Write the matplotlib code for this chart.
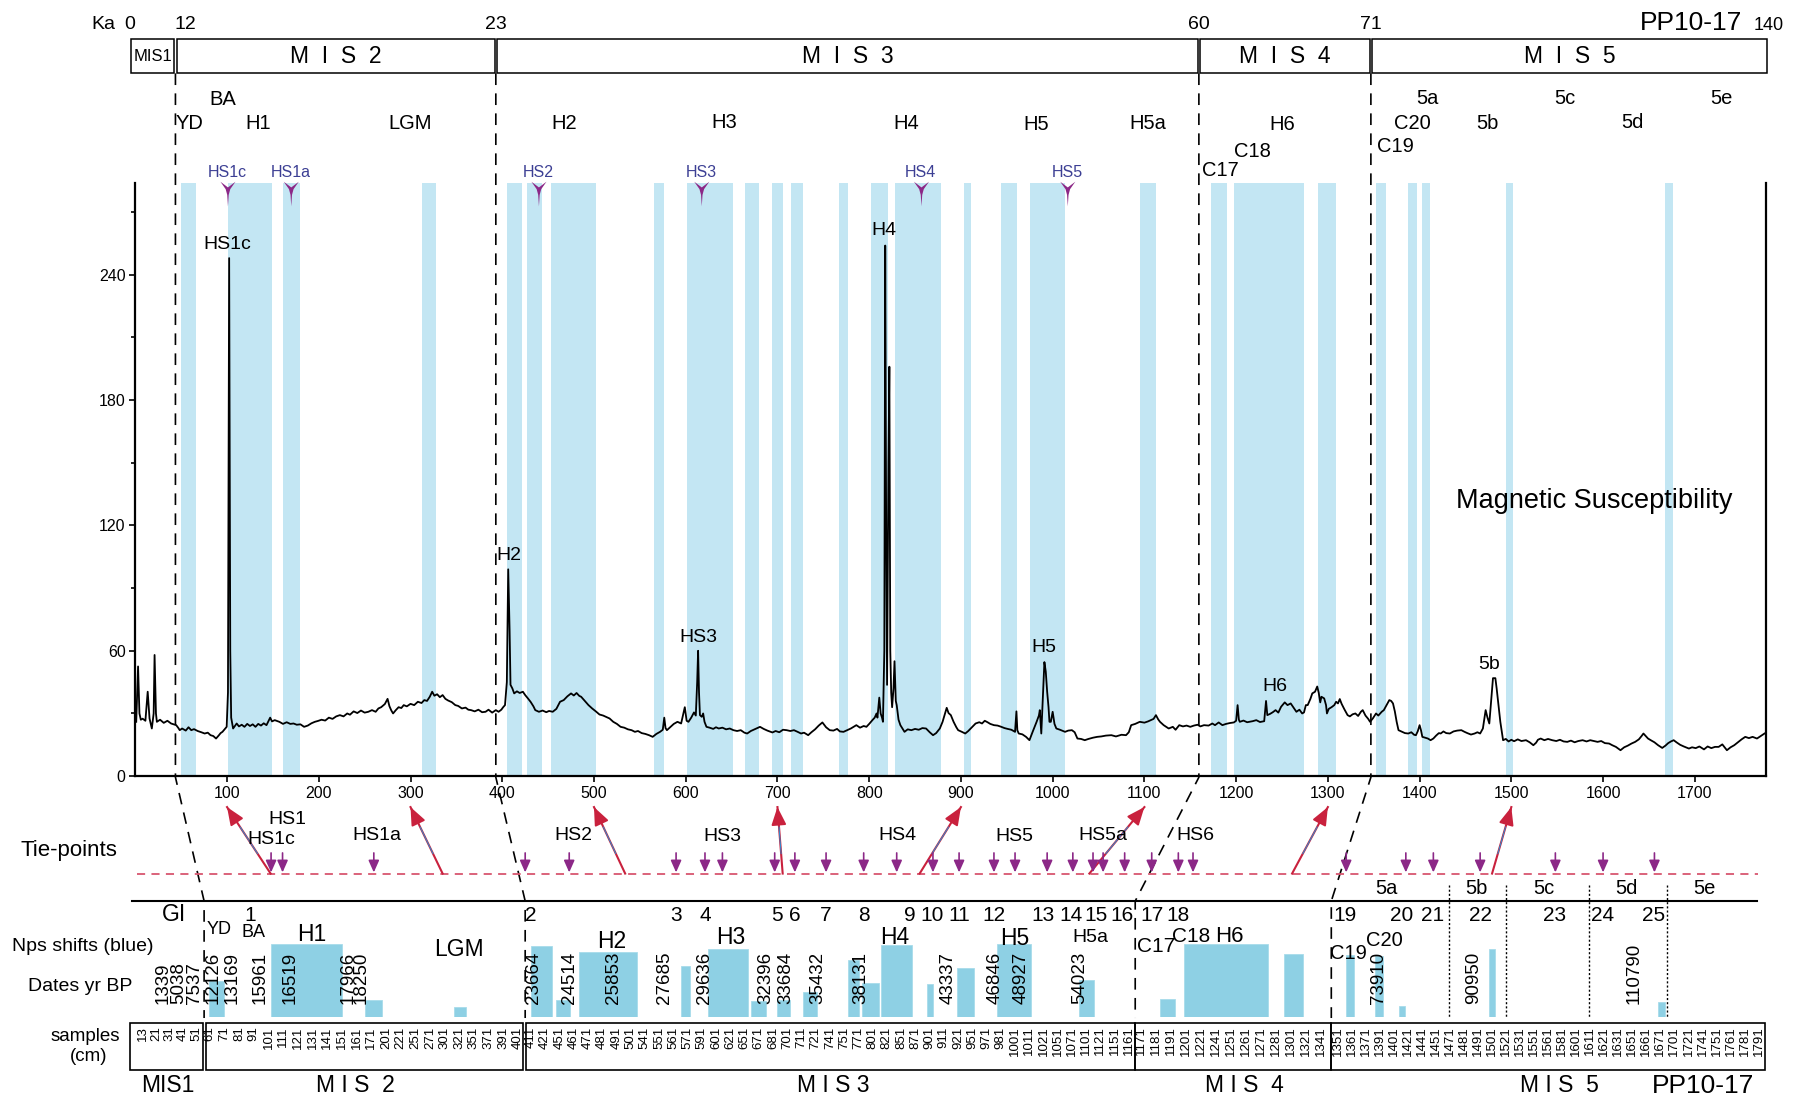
import matplotlib
matplotlib.use("Agg")
import matplotlib.pyplot as plt
from matplotlib import font_manager
from matplotlib.patches import Rectangle, Polygon

# ---------------------------------------------------------------- fonts
_avail = {f.name for f in font_manager.fontManager.ttflist}


def pick(*names):
    for n in names:
        if n in _avail:
            return n
    return "DejaVu Sans"


SANS = pick("Liberation Sans", "Arial", "DejaVu Sans")
NARROW = pick("Liberation Sans Narrow", SANS)
HAS_NARROW = NARROW != SANS
plt.rcParams["font.family"] = [SANS, "DejaVu Sans"]

# ---------------------------------------------------------------- data
# magnetic susceptibility along core PP10-17 (depth in cm, SI x 10^-6)
depth_cm = [
    1, 3, 4.5, 6, 8, 11, 13.5, 15.5, 18, 20, 21, 22.5, 23.5, 27, 31, 35, 39, 42, 44.6, 47,
    48.4, 51, 55, 58, 61, 64, 68, 72, 75.6, 79, 82, 85, 88, 91, 93, 95, 97.5, 99.6, 101, 102.3,
    103.5, 104.5, 106.6, 108.5, 110.5, 113, 116, 119, 122, 125, 128, 131, 134, 137, 140, 143, 147, 149, 152, 157,
    161, 165, 169, 172.5, 176, 180, 184, 188, 192, 195.7, 199, 203, 207, 211, 215, 219, 223, 227, 231, 234,
    238, 242, 246, 250, 254, 258, 262, 265, 268, 272, 275, 277, 279, 281, 284, 287, 290, 292.6, 296, 300,
    304, 308, 312, 315, 318, 321, 323.6, 326, 329, 332, 335, 338, 341, 345, 348.8, 352, 356, 360, 363, 366,
    370, 374, 378, 381.8, 385, 389, 393, 396, 399, 401, 403, 405, 406.5, 408, 409, 411, 413, 416, 419, 422.5,
    425, 428, 431, 434, 436, 440, 444, 448, 451, 455, 459, 463, 467, 471, 475, 478, 481, 484, 486, 490,
    494, 498, 502, 506, 510, 514, 517, 521, 525, 529, 533, 537, 541, 544.6, 548, 552, 556, 560, 564, 568,
    572, 575, 576.6, 578, 579.5, 583, 587, 591, 595, 599, 601, 603, 606, 609, 611, 612.5, 613.5, 614.5, 615.5, 617.5,
    619, 620.5, 622.6, 626, 630, 633, 636, 640, 644, 648, 652, 656, 660, 664, 667, 671, 675, 678, 681, 685,
    689, 694.5, 698, 702, 706, 710, 714, 718, 722, 725.7, 729, 733.5, 737, 741, 745, 749, 753, 757, 761, 765,
    768, 772, 776, 780, 783, 786, 790, 794, 797, 800, 803.5, 806, 808, 809, 811, 812.5, 814, 815, 816.5, 817.5,
    818.5, 819.5, 821, 822, 823, 824, 825, 826.5, 827.6, 829, 830, 832, 834, 838.5, 842, 846, 850, 854, 858, 862,
    866, 869.6, 873, 877, 880, 882, 884.5, 886.5, 889, 892, 895, 897, 901, 904.7, 908, 912, 916, 920, 923, 926,
    929, 932, 936, 940, 944, 947.5, 951, 955, 959, 960.5, 961.5, 963, 967, 971, 974.7, 978, 982.5, 985, 986, 987.6,
    989, 991, 992.5, 994, 995.5, 996.5, 998, 1000, 1002, 1004, 1008, 1013.5, 1017, 1021, 1024, 1027, 1031, 1035, 1039, 1044,
    1048.6, 1053, 1058, 1064, 1069, 1075, 1080, 1083, 1085.6, 1090, 1095, 1100, 1104, 1107, 1110, 1112.6, 1115, 1117, 1121, 1126.5,
    1131, 1134, 1138, 1142, 1146, 1150, 1154, 1158, 1161, 1165, 1170, 1174, 1177, 1181, 1185, 1189, 1193, 1197.5, 1200, 1201.6,
    1203, 1204, 1208, 1212, 1218, 1222, 1226, 1230.6, 1232.6, 1234, 1237, 1240, 1243, 1246, 1249, 1253, 1256, 1259.5, 1262, 1265.7,
    1269, 1272, 1274, 1276, 1278, 1281, 1283, 1286, 1288.4, 1290, 1291.7, 1293, 1296, 1298, 1299, 1301, 1304, 1307, 1309, 1311,
    1313, 1315, 1318, 1321.5, 1324, 1327, 1330, 1333, 1336, 1338, 1341, 1344, 1346, 1349, 1352.5, 1355, 1358.7, 1361, 1364, 1367,
    1369, 1371, 1373, 1375, 1377, 1381, 1384, 1387.6, 1391, 1394, 1396, 1398, 1400, 1401.5, 1403, 1406, 1409, 1412, 1415, 1418,
    1421, 1423, 1426, 1429, 1433, 1437, 1441, 1445.5, 1449, 1452, 1456, 1460, 1463, 1466, 1469, 1472, 1474, 1476, 1478, 1480,
    1482.6, 1484, 1486, 1488, 1491, 1494, 1497, 1500, 1503, 1507, 1511, 1516, 1520, 1524, 1527, 1529, 1532, 1536, 1540, 1544.6,
    1549, 1553, 1557, 1561, 1565, 1569, 1573, 1577.7, 1582, 1586, 1590, 1594, 1598, 1602, 1606.6, 1610, 1614, 1619, 1623, 1627,
    1631, 1635, 1639, 1642, 1644, 1647, 1649, 1652, 1656, 1660, 1664.5, 1668, 1671, 1674, 1677, 1680, 1684, 1688, 1693.6, 1697,
    1701, 1705, 1710, 1714, 1718, 1722, 1726, 1730, 1735, 1739, 1743, 1747, 1751, 1755, 1759, 1763, 1767.8, 1772, 1776,
]
susceptibility = [
    26, 52.5, 30, 27, 27.5, 26.5, 40.4, 27.6, 22.8, 30, 58, 30, 26, 27, 25.5, 26.5, 25.2, 24.8, 24.4, 23,
    22, 22.8, 21.8, 23.4, 22, 22.5, 21.6, 21, 20.4, 20.8, 19.6, 19.2, 18, 19.5, 20.6, 21.2, 22.5, 23.6, 40, 248,
    60, 28, 22.8, 24, 25.2, 23.8, 24.6, 23.6, 25, 24, 24.8, 23.6, 25, 24.2, 25.3, 24.4, 28, 26.2, 26.8, 26,
    25, 25.8, 25, 25.2, 24.6, 24.8, 23.6, 24.2, 25.3, 26, 26.4, 27, 26.6, 28, 27.4, 28.6, 29.2, 28.6, 30, 29.4,
    31, 30.2, 31.4, 30.4, 30.8, 31.6, 30.8, 32.4, 33, 34.5, 37, 33.5, 31.5, 30, 31.6, 33, 32.6, 34, 33.4, 34.6,
    34, 35.6, 35, 36.4, 36, 38, 40.4, 38.5, 39.2, 37.8, 38.8, 37, 36.2, 35.4, 34, 33.6, 32.4, 32.8, 31.8, 31.6,
    31, 31.8, 30.6, 30.8, 31.8, 30.4, 31.6, 30.8, 31.8, 33, 34, 45, 99, 70, 43.7, 42, 39.6, 40.6, 39.8, 40.4,
    38.8, 37.2, 35.5, 33.4, 31.6, 30.8, 31.4, 30.6, 31.2, 30.8, 32.2, 35.6, 36.4, 38.2, 39.6, 38.6, 39.8, 38.4, 38, 36,
    34, 32.4, 31, 29.5, 29, 28.2, 27.6, 26, 25, 23.6, 23.2, 22.4, 22, 21.2, 21.6, 20.6, 20.2, 19.6, 18.8, 20.2,
    21.2, 22.2, 28, 23, 22, 23.4, 25, 26, 25.2, 33, 26.5, 26, 28, 30.5, 29, 45, 60, 40, 29.2, 28.4,
    30, 26, 23.6, 23.2, 22.6, 23.4, 22.8, 23.2, 22.4, 22.8, 22, 21.6, 22, 20.8, 20.4, 21.6, 22.4, 23, 23.6, 22.6,
    21.8, 20.9, 21.6, 21, 22.2, 22, 21.6, 22, 21.2, 20.4, 20.8, 19.6, 21, 22.4, 24.2, 25.7, 23.4, 22, 21.8, 22.6,
    21.4, 21.2, 22, 22.8, 23.6, 24.4, 23.2, 24, 23.6, 25, 26.8, 28, 30, 28, 37.6, 30, 28, 26, 60, 254,
    120, 43.7, 150, 196, 60, 40, 33, 42, 55, 36, 34, 27, 24.4, 21.2, 22.4, 22, 22.6, 22.2, 23, 22.8,
    21, 19.6, 20.6, 22.8, 26, 29, 32.7, 30.2, 29.2, 26, 23.4, 22, 21.2, 20.4, 21.6, 23.4, 25.2, 25.8, 25.2, 26.5,
    25.8, 25, 24.4, 24.2, 23.6, 23, 22.6, 22.2, 21.2, 31, 22, 20.4, 20, 18.8, 17.2, 21, 26, 29, 31.6, 20.4,
    35, 54.6, 50, 40.4, 33, 26, 26, 30.8, 25, 22.8, 22.2, 21.2, 21.8, 22, 21, 18, 17.8, 17.2, 17.8, 18.4,
    18.8, 19, 19.4, 19.6, 19, 19.8, 19.6, 21, 24.4, 25, 26, 25.6, 26.2, 26.8, 27.4, 29.2, 27.2, 26, 24.4, 22.8,
    23.6, 22.2, 24.4, 23.8, 24.2, 23.6, 24.2, 24.6, 23.8, 24.4, 24.2, 25.2, 24.4, 25.7, 24.4, 25, 25.4, 25.7, 26.5, 34,
    27, 26, 26.6, 25.8, 26.3, 26.8, 25.9, 26.3, 36, 29.2, 29.8, 30.6, 31.6, 30.4, 33.2, 35.3, 34, 34.8, 33.2, 30.8,
    31.8, 30, 30.5, 34, 34, 37, 39.6, 40.4, 42.9, 40, 35.3, 38, 37.2, 34, 30, 32.2, 33, 34, 35.6, 34.8,
    36.9, 34.6, 32, 29.2, 28.6, 29.6, 30, 28.8, 30.8, 31.6, 29, 27.4, 26, 27.6, 30, 29, 30.8, 31.6, 34, 36.4,
    36, 34.8, 31, 26, 22, 21.2, 20.6, 20.4, 21, 19.8, 19.6, 21.5, 24.4, 22, 18.8, 18.4, 18, 17.2, 18, 19.4,
    20.6, 20.4, 21.4, 20.6, 20.4, 21.4, 21.8, 22, 21.2, 20.6, 19.9, 20.4, 21, 20.4, 22.8, 31.6, 28, 25.2, 36, 46.9,
    46.9, 42, 34, 26, 17.2, 17.8, 16.6, 17.4, 16.7, 17.6, 16.8, 17.2, 16.2, 14.8, 16, 17.4, 18, 17.2, 17.8, 17.2,
    16.8, 17.4, 16.6, 16.4, 17, 16.2, 16.8, 17.2, 16.6, 17.2, 16.8, 16.4, 16.8, 15.8, 15.6, 14.8, 14, 12.4, 13.8, 14.6,
    15.6, 16.4, 17.6, 19.2, 20.4, 19, 18, 17.2, 16.2, 14.8, 13.5, 14.6, 15.8, 16.6, 17.2, 16.2, 15, 14.2, 13.2, 13.8,
    13.4, 14.2, 12.8, 14.2, 13.4, 14, 14, 15.2, 12.4, 13.8, 14.8, 16.2, 17.6, 18.8, 18.2, 18.8, 18, 19.2, 20.4,
]

# depth intervals shaded as cold events (cm)
band_start = [50, 101, 161, 313, 405, 427, 453, 565, 601, 665, 694, 715, 767, 802, 828, 903, 944, 975,
              1095, 1173, 1198, 1289, 1353, 1387, 1403, 1494, 1667]
band_end = [66, 149, 180, 328, 421, 443, 502, 576, 652, 680, 706, 728, 777, 821, 878, 911, 961, 1014,
            1113, 1190, 1274, 1309, 1363, 1397, 1411, 1502, 1676]

# Heinrich-stadial markers on top of the record
hs_names = ["HS1c", "HS1a", "HS2", "HS3", "HS4", "HS5"]
hs_depth = [101, 170, 440, 617.5, 857, 1016.5]

# labelled peaks of the susceptibility record
peak_names = ["HS1c", "H2", "HS3", "H4", "H5", "H6", "5b"]
peak_depth = [100, 407.5, 613.5, 816, 990, 1242.5, 1476]
peak_value = [249, 100, 61, 256, 56, 37.5, 48]

# marine isotope stages: age boundaries (ka) and their depth in the core (cm)
mis_ka = ["0", "12", "23", "60", "71", "140"]
mis_names = ["MIS1", "M  I  S  2", "M  I  S  3", "M  I  S  4", "M  I  S  5"]
mis_top_depth = [-5.6, 43.75, 393, 1159.4, 1346.9, 1780.5]
mis_low_depth = [75, 425, 1090, 1303.75]

# tie-points between record and the Greenland stratigraphy (cm)
tie_depth = [148, 160.5, 260, 425, 473, 589.5, 621, 640, 697, 719, 753, 794, 830, 869.5, 898, 936,
             959, 994, 1022, 1044, 1055, 1078.5, 1108, 1137, 1153, 1320, 1385, 1415, 1466, 1548, 1600, 1656]
link_from = [147.5, 335, 534, 705.7, 855, 1040, 1261, 1479]
link_to = [100, 300, 500, 700, 900, 1100, 1300, 1500]

# Greenland interstadials
gi_names = [str(i) for i in range(1, 26)]
gi_depth = [125, 431, 589, 621, 699, 719, 753, 794, 844.5, 869, 898, 936, 990, 1020, 1047, 1076,
            1108, 1137, 1319, 1380, 1414, 1466, 1547, 1599, 1655]

# Nps (N. pachyderma sin.) shifts: depth interval (cm) and relative amplitude
nps_left = [79.8, 147.9, 250.5, 347.5, 431, 458.4, 483.8, 594.6, 624.3, 671.4, 699.9, 728, 777, 792,
            813, 863, 896, 939, 1028.8, 1117, 1142.8, 1252.5, 1319.8, 1351, 1377.8, 1475.6, 1660]
nps_right = [96.4, 224.8, 269, 361, 454, 474.4, 546.5, 604.4, 667.6, 687.5, 713.8, 742.8, 788.4, 811,
             846.6, 869.6, 914.5, 976, 1045, 1133.4, 1234.4, 1273.4, 1328.5, 1360.4, 1384.6, 1481.9, 1667.5]
nps_height = [31.5, 63.5, 15, 8.2, 61.4, 14.3, 56.8, 44.6, 59.4, 14, 15, 21.3, 49.8, 29.5, 62.3, 28.8,
              42.6, 63.8, 32.4, 15.5, 63.5, 55, 54.2, 52.7, 9.7, 59.4, 12.6]

# radiocarbon / model ages (yr BP)
date_labels = ["1339", "5038", "7537", "12126", "13169", "15961", "16519", "17966", "18250", "23664",
               "24514", "25853", "27685", "29636", "32396", "33684", "35432", "38131", "43337", "46846",
               "48927", "54023", "73910", "90950", "110790"]
date_depth = [30, 47.4, 64.4, 85, 105.5, 136, 169, 232, 246.7, 434, 473, 520.8, 576.6, 621, 687.5,
              708.8, 744, 790.6, 885.6, 937, 965.5, 1030, 1355, 1459, 1634]

# sampled depths (cm) per stage
samples_mis1 = [13, 21, 31, 41, 51]
samples_mis2 = [61, 71, 81, 91, 101, 111, 121, 131, 141, 151, 161, 171, 201, 221, 251, 271, 301, 321,
                351, 371, 391, 401]
samples_mis3 = [411, 421, 451, 461, 471, 481, 491, 501, 541, 551, 561, 571, 591, 601, 621, 651, 671,
                681, 701, 711, 721, 741, 751, 771, 801, 821, 851, 871, 901, 911, 921, 951, 971, 981,
                1001, 1011, 1021, 1051, 1071, 1101, 1121, 1151, 1161]
samples_mis4 = [1171, 1181, 1191, 1201, 1221, 1241, 1251, 1261, 1271, 1281, 1301, 1321, 1341]
samples_mis5 = [1351, 1361, 1371, 1391, 1401, 1421, 1441, 1451, 1471, 1481, 1491, 1501, 1521, 1531,
                1551, 1561, 1581, 1601, 1611, 1621, 1631, 1651, 1661, 1671, 1701, 1721, 1741, 1751,
                1761, 1781, 1791]

# ---------------------------------------------------------------- styles
BAND = "#c3e6f3"
NPS = "#8ed0e4"
PURPLE = "#8c2887"
HSBLUE = "#3c3f94"
RED = "#c9213d"
LINKBLUE = "#2b8fd3"
TIEDASH = "#d8566f"

# layout grid: 1568 x 963 units over the whole figure; depth 0 at x=118, 0.8 unit per cm
W, H = 1568.0, 963.0
X0, PPC = 118.0, 0.8


def cm(px):
    return (px - X0) / PPC


def rect(x0, y0, x1, y1):
    return [x0 / W, 1 - y1 / H, (x1 - x0) / W, (y1 - y0) / H]


fig = plt.figure(figsize=(17.98, 11.04), dpi=100)

# ---------------------------------------------------------------- main record
ax = fig.add_axes(rect(118, 160, 1540, 677))
ax.set_xlim(0, cm(1540))
ax.set_ylim(0, (677 - 160) / 1.822)
for s, e in zip(band_start, band_end):
    ax.axvspan(s, e, color=BAND, lw=0, zorder=0)
ax.plot(depth_cm, susceptibility, color="black", lw=1.3, zorder=3)
ax.spines["top"].set_visible(False)
for side in ("left", "right", "bottom"):
    ax.spines[side].set_linewidth(1.6)
ax.set_xticks(range(100, 1800, 100))
ax.set_yticks([0, 60, 120, 180, 240])
ax.set_yticks([30, 90, 150, 210, 270], minor=True)
ax.tick_params(axis="both", which="major", direction="out", length=4, width=1.2, pad=3)
ax.tick_params(axis="y", which="minor", direction="out", length=3, width=1.2)
for lab in ax.get_xticklabels() + ax.get_yticklabels():
    lab.set_fontfamily([NARROW, "DejaVu Sans"])
    lab.set_fontsize(12.5 if HAS_NARROW else 11.5)
for name, d, v in zip(peak_names, peak_depth, peak_value):
    ax.annotate(name, (d, v), xytext=(0, 2), textcoords="offset points",
                ha="center", va="bottom", fontsize=14)
ax.text(cm(1390), (677 - 437) / 1.822, "Magnetic Susceptibility", ha="center", va="center",
        fontsize=19.5)

# ---------------------------------------------------------------- Nps shift bars
axb = fig.add_axes(rect(0, 820, W, 887))
axb.set_xlim(cm(0), cm(W))
axb.set_ylim(0, 67)
axb.axis("off")
axb.bar(nps_left, nps_height, width=[r - l for l, r in zip(nps_left, nps_right)], align="edge",
        color=NPS, edgecolor="#a8dcea", lw=0.6)

# ---------------------------------------------------------------- overlay for annotation
ov = fig.add_axes([0, 0, 1, 1])
ov.set_xlim(cm(0), cm(W))
ov.set_ylim(H, 0)
ov.axis("off")
ov.patch.set_alpha(0)
ov.set_zorder(5)

# stage boxes along the top
gap = 1.3
for i, name in enumerate(mis_names):
    a, b = mis_top_depth[i] + gap, mis_top_depth[i + 1] - gap
    ov.add_patch(Rectangle((a, 34), b - a, 30, fill=False, ec="black", lw=1.1))
    ov.text((a + b) / 2, 49.5, name, ha="center", va="center",
            fontsize=12 if i == 0 else 16.5)
ov.text(cm(90), 21, "Ka", ha="center", va="center", fontsize=14)
for i, k in enumerate(mis_ka):
    x = mis_top_depth[i]
    if i == 1:
        ov.text(x - 1, 21, k, ha="left", va="center", fontsize=14)
    else:
        ov.text(x, 21 if i < 5 else 22, k, ha="center", va="center", fontsize=14 if i < 5 else 13)
ov.text(cm(1475), 20, "PP10-17", ha="center", va="center", fontsize=19)

# event names above the record
top_events = [("BA", 194, 86.5), ("YD", 165, 108), ("H1", 225, 108), ("LGM", 358, 108),
              ("H2", 492, 108), ("H3", 632, 107), ("H4", 790, 108), ("H5", 904, 109),
              ("H5a", 1001, 108), ("H6", 1118.5, 109), ("C18", 1092, 132), ("C17", 1064.5, 149),
              ("5a", 1244.5, 86), ("5c", 1365, 86), ("5e", 1501.5, 86), ("C20", 1232, 108),
              ("5b", 1297, 108), ("5d", 1424, 107), ("C19", 1217, 128)]
for t, x, y in top_events:
    ov.text(cm(x), y, t, ha="center", va="center", fontsize=14.5)

# Heinrich-stadial arrowheads
for name, d in zip(hs_names, hs_depth):
    ov.add_patch(Polygon([(d - 8.2, 158.5), (d, 163.5), (d + 8.2, 158.5), (d + 2.5, 165),
                          (d + 0.8, 170), (d, 180), (d - 0.8, 170), (d - 2.5, 165)],
                         closed=True, fc=PURPLE, ec="none", zorder=6))
    ov.text(d - 1, 150.5, name, ha="center", va="center", fontsize=12 if HAS_NARROW else 11.5,
            color=HSBLUE, family=[NARROW, "DejaVu Sans"])

# stage boundaries carried down through the panels
for top, low in zip(mis_top_depth[1:5], mis_low_depth):
    ov.plot([top, top, low, low], [64, 678, 786, 888], color="black", lw=1.2,
            dashes=(7, 5))

# tie-point line, tie arrows and links
ov.text(cm(60), 742, "Tie-points", ha="center", va="center", fontsize=16)
ov.plot([cm(119.5), cm(1533.5)], [762, 762], color=TIEDASH, lw=1.3, dashes=(4.5, 3.5))
for d in tie_depth:
    ov.annotate("", xy=(d, 761), xytext=(d, 744),
                arrowprops=dict(arrowstyle="-|>,head_length=0.45,head_width=0.2", color=PURPLE,
                                lw=1.2, shrinkA=0, shrinkB=0, mutation_scale=16))
for b, t in zip(link_from, link_to):
    yb, yt = 762, 704
    ov.plot([b, t], [yb, yt], color=RED, lw=1.5)
    f0, f1 = 0.3, 0.7
    ov.plot([b + (t - b) * f0, b + (t - b) * f1], [yb + (yt - yb) * f0, yb + (yt - yb) * f1],
            color=LINKBLUE, lw=0.7)
    ov.annotate("", xy=(t, yt), xytext=(b + (t - b) * 0.8, yb + (yt - yb) * 0.8),
                arrowprops=dict(arrowstyle="-|>,head_length=0.6,head_width=0.25", color=RED,
                                lw=1.4, shrinkA=0, shrinkB=0, mutation_scale=18))
tie_labels = [("HS1", 251, 715), ("HS1c", 236.5, 732), ("HS1a", 329, 729), ("HS2", 500, 729),
              ("HS3", 630, 729.5), ("HS4", 783, 729), ("HS5", 885, 730), ("HS5a", 962, 729),
              ("HS6", 1042.5, 729)]
for t, x, y in tie_labels:
    ov.text(cm(x), y, t, ha="center", va="center", fontsize=14)

# Greenland interstadial row
ov.plot([cm(115), cm(1532)], [786, 786], color="black", lw=1.5)
ov.text(cm(152), 798, "GI", ha="center", va="center", fontsize=16.5)
for name, d in zip(gi_names, gi_depth):
    ov.text(d, 799, name, ha="center", va="center", fontsize=15)
for t, x in [("5a", 1209), ("5b", 1288), ("5c", 1346), ("5d", 1418), ("5e", 1486)]:
    ov.text(cm(x), 775, t, ha="center", va="center", fontsize=14.5)
for x in [1264, 1313, 1386, 1453.5]:
    ov.plot([cm(x), cm(x)], [772, 888], color="black", lw=1.0, dashes=(1.5, 1.5))

# lower panel labels
ov.text(cm(72), 825.5, "Nps shifts (blue)", ha="center", va="center", fontsize=14)
ov.text(cm(70), 860.5, "Dates yr BP", ha="center", va="center", fontsize=14)
low_events = [("YD", 191, 811, 13), ("BA", 221, 813.5, 13), ("H1", 272, 815.5, 16.5),
              ("LGM", 400, 828.5, 16.5), ("H2", 533.5, 821, 16.5), ("H3", 637, 818, 16.5),
              ("H4", 780, 818, 16.5), ("H5", 885, 819, 16.5), ("H5a", 951, 818, 14),
              ("C17", 1008, 825.5, 15), ("C18", 1038.5, 817, 15), ("H6", 1072.5, 817, 16),
              ("C19", 1176, 832, 14.5), ("C20", 1207.5, 820, 14.5)]
for t, x, y, fs in low_events:
    ov.text(cm(x), y, t, ha="center", va="center", fontsize=fs)
for t, d in zip(date_labels, date_depth):
    ov.text(d, 876, t, rotation=90, ha="center", va="bottom", fontsize=13.5)

# sample boxes
ov.text(cm(74), 904, "samples", ha="center", va="center", fontsize=13.5)
ov.text(cm(77), 921.5, "(cm)", ha="center", va="center", fontsize=13.5)
boxes = [(113.5, 177, 124.6, 171.3, samples_mis1), (179.5, 456.5, 183, 451.6, samples_mis2),
         (458.5, 990, 463, 984.5, samples_mis3), (990, 1161, 995.3, 1152, samples_mis4),
         (1161, 1539, 1166.8, 1533.6, samples_mis5)]
for x0, x1, l0, l1, labels in boxes:
    ov.add_patch(Rectangle((cm(x0), 892), cm(x1) - cm(x0), 41, fill=False, ec="black", lw=1.2))
    n = len(labels)
    for j, s in enumerate(labels):
        x = l0 + (l1 - l0) * j / (n - 1)
        ov.text(cm(x), 895.5, str(s), rotation=90, ha="center", va="top",
                fontsize=10.5 if HAS_NARROW else 9.5, family=[NARROW, "DejaVu Sans"])
low_mis = [("MIS1", 146, 16.5), ("M I S  2", 309.5, 16.5), ("M I S 3", 727, 16.5),
           ("M I S  4", 1085, 16.5), ("M I S  5", 1360, 16.5), ("PP10-17", 1485, 19)]
for t, x, fs in low_mis:
    ov.text(cm(x), 947, t, ha="center", va="center", fontsize=fs)

fig.savefig("out.png", dpi=100)
